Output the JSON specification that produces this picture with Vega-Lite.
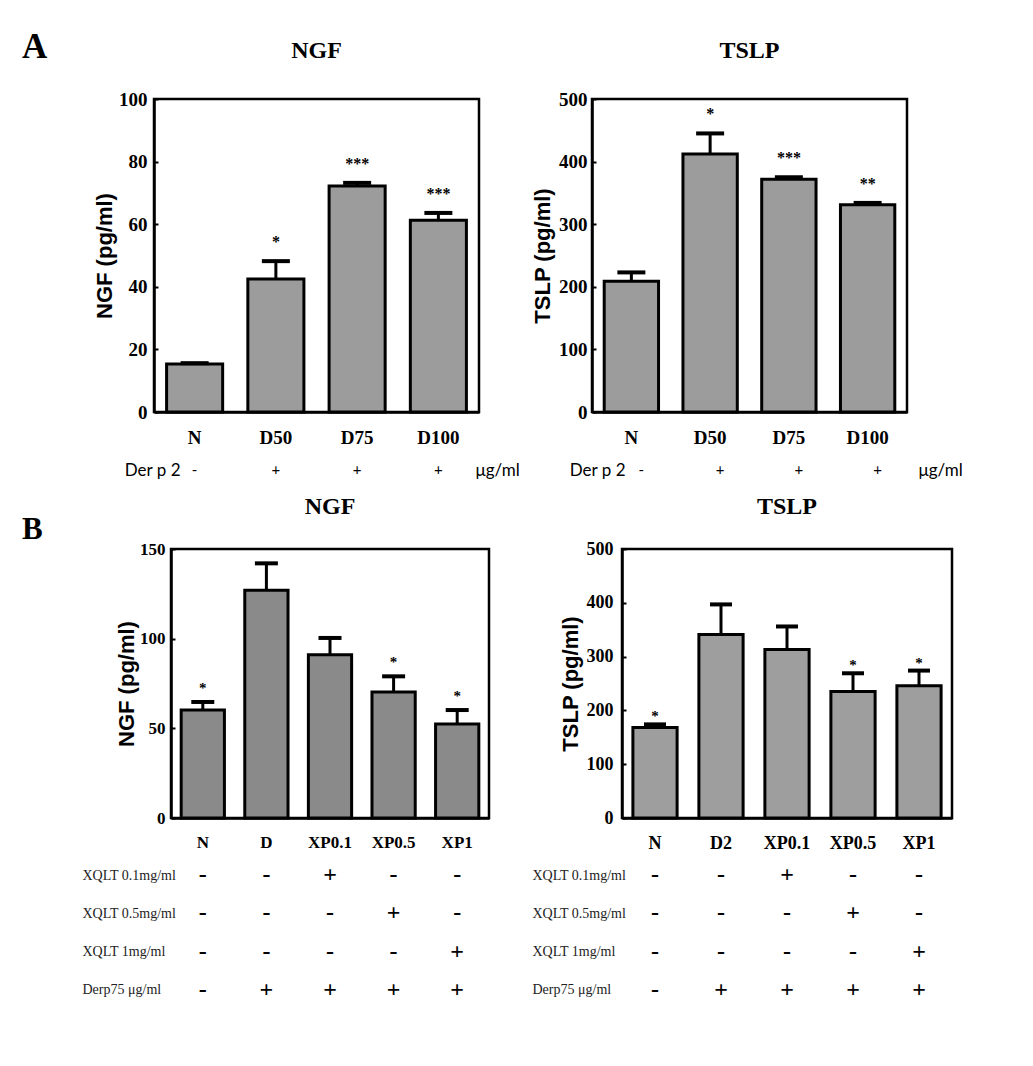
{
  "$schema": "https://vega.github.io/schema/vega-lite/v6.json",
  "background": "white",
  "padding": {"left": 22, "top": 29, "right": 10, "bottom": 5},
  "autosize": {"type": "pad"},
  "datasets": {
    "ngfA": [
      {"group": "N", "mean": 15.3, "upper": 15.6, "star": ""},
      {"group": "D50", "mean": 42.5, "upper": 48.2, "star": "*"},
      {"group": "D75", "mean": 72.2, "upper": 73.2, "star": "***"},
      {"group": "D100", "mean": 61.3, "upper": 63.6, "star": "***"}
    ],
    "tslpA": [
      {"group": "N", "mean": 209, "upper": 223, "star": ""},
      {"group": "D50", "mean": 412, "upper": 445, "star": "*"},
      {"group": "D75", "mean": 372, "upper": 375, "star": "***"},
      {"group": "D100", "mean": 331, "upper": 334, "star": "**"}
    ],
    "ngfB": [
      {"group": "N", "mean": 60.2, "upper": 64.7, "star": "*"},
      {"group": "D", "mean": 127, "upper": 142, "star": ""},
      {"group": "XP0.1", "mean": 91, "upper": 100.4, "star": ""},
      {"group": "XP0.5", "mean": 70.3, "upper": 79, "star": "*"},
      {"group": "XP1", "mean": 52.4, "upper": 60.2, "star": "*"}
    ],
    "tslpB": [
      {"group": "N", "mean": 168, "upper": 174, "star": "*"},
      {"group": "D2", "mean": 341, "upper": 397, "star": ""},
      {"group": "XP0.1", "mean": 313, "upper": 356, "star": ""},
      {"group": "XP0.5", "mean": 235, "upper": 269, "star": "*"},
      {"group": "XP1", "mean": 246, "upper": 274, "star": "*"}
    ],
    "derA": [
      {"group": "N", "row": "Der p 2", "sym": "-"},
      {"group": "D50", "row": "Der p 2", "sym": "+"},
      {"group": "D75", "row": "Der p 2", "sym": "+"},
      {"group": "D100", "row": "Der p 2", "sym": "+"}
    ],
    "tabNGF": [
      {"group": "N", "row": "XQLT 0.1mg/ml", "sym": "-"},
      {"group": "D", "row": "XQLT 0.1mg/ml", "sym": "-"},
      {"group": "XP0.1", "row": "XQLT 0.1mg/ml", "sym": "+"},
      {"group": "XP0.5", "row": "XQLT 0.1mg/ml", "sym": "-"},
      {"group": "XP1", "row": "XQLT 0.1mg/ml", "sym": "-"},
      {"group": "N", "row": "XQLT 0.5mg/ml", "sym": "-"},
      {"group": "D", "row": "XQLT 0.5mg/ml", "sym": "-"},
      {"group": "XP0.1", "row": "XQLT 0.5mg/ml", "sym": "-"},
      {"group": "XP0.5", "row": "XQLT 0.5mg/ml", "sym": "+"},
      {"group": "XP1", "row": "XQLT 0.5mg/ml", "sym": "-"},
      {"group": "N", "row": "XQLT 1mg/ml", "sym": "-"},
      {"group": "D", "row": "XQLT 1mg/ml", "sym": "-"},
      {"group": "XP0.1", "row": "XQLT 1mg/ml", "sym": "-"},
      {"group": "XP0.5", "row": "XQLT 1mg/ml", "sym": "-"},
      {"group": "XP1", "row": "XQLT 1mg/ml", "sym": "+"},
      {"group": "N", "row": "Derp75 μg/ml", "sym": "-"},
      {"group": "D", "row": "Derp75 μg/ml", "sym": "+"},
      {"group": "XP0.1", "row": "Derp75 μg/ml", "sym": "+"},
      {"group": "XP0.5", "row": "Derp75 μg/ml", "sym": "+"},
      {"group": "XP1", "row": "Derp75 μg/ml", "sym": "+"}
    ],
    "tabTSLP": [
      {"group": "N", "row": "XQLT 0.1mg/ml", "sym": "-"},
      {"group": "D2", "row": "XQLT 0.1mg/ml", "sym": "-"},
      {"group": "XP0.1", "row": "XQLT 0.1mg/ml", "sym": "+"},
      {"group": "XP0.5", "row": "XQLT 0.1mg/ml", "sym": "-"},
      {"group": "XP1", "row": "XQLT 0.1mg/ml", "sym": "-"},
      {"group": "N", "row": "XQLT 0.5mg/ml", "sym": "-"},
      {"group": "D2", "row": "XQLT 0.5mg/ml", "sym": "-"},
      {"group": "XP0.1", "row": "XQLT 0.5mg/ml", "sym": "-"},
      {"group": "XP0.5", "row": "XQLT 0.5mg/ml", "sym": "+"},
      {"group": "XP1", "row": "XQLT 0.5mg/ml", "sym": "-"},
      {"group": "N", "row": "XQLT 1mg/ml", "sym": "-"},
      {"group": "D2", "row": "XQLT 1mg/ml", "sym": "-"},
      {"group": "XP0.1", "row": "XQLT 1mg/ml", "sym": "-"},
      {"group": "XP0.5", "row": "XQLT 1mg/ml", "sym": "-"},
      {"group": "XP1", "row": "XQLT 1mg/ml", "sym": "+"},
      {"group": "N", "row": "Derp75 μg/ml", "sym": "-"},
      {"group": "D2", "row": "Derp75 μg/ml", "sym": "+"},
      {"group": "XP0.1", "row": "Derp75 μg/ml", "sym": "+"},
      {"group": "XP0.5", "row": "Derp75 μg/ml", "sym": "+"},
      {"group": "XP1", "row": "Derp75 μg/ml", "sym": "+"}
    ],
    "blank": [{"k": 1}]
  },
  "bounds": "flush",
  "spacing": 450,
  "vconcat": [
    {
      "title": {"text": "A", "anchor": "start", "frame": "group", "dx": -132, "dy": 31, "fontSize": 35},
      "bounds": "flush",
      "spacing": 438,
      "hconcat": [
        {
          "bounds": "flush",
          "spacing": 46,
          "vconcat": [
            {
              "width": 325, "height": 313,
              "title": {"text": "NGF", "offset": 27},
              "data": {"name": "ngfA"},
              "encoding": {
                "x": {"field": "group", "type": "nominal", "sort": null, "scale": {"paddingInner": 0.31, "paddingOuter": 0.155}, "axis": {"labelFontSize": 19}}
              },
              "layer": [
                {"mark": {"type": "bar", "fill": "#9c9c9c", "stroke": "black", "strokeWidth": 3},
                 "encoding": {"y": {"field": "mean", "type": "quantitative", "title": "NGF (pg/ml)", "scale": {"domain": [0, 100], "nice": false}, "axis": {"values": [0, 20, 40, 60, 80, 100], "labelPadding": 11, "titlePadding": 2}}}},
                {"mark": {"type": "rule", "color": "black", "strokeWidth": 3},
                 "encoding": {"y": {"field": "mean", "type": "quantitative", "title": "NGF (pg/ml)"}, "y2": {"field": "upper"}}},
                {"mark": {"type": "tick", "color": "black", "thickness": 4, "size": 28, "opacity": 1},
                 "encoding": {"y": {"field": "upper", "type": "quantitative", "title": "NGF (pg/ml)"}}},
                {"mark": {"type": "text", "font": "Liberation Serif", "fontWeight": "bold", "fontSize": 16, "color": "black", "baseline": "alphabetic", "dy": -14},
                 "encoding": {"y": {"field": "upper", "type": "quantitative", "title": "NGF (pg/ml)"}, "text": {"field": "star"}}}
              ]
            },
            {
              "width": 325, "height": 24,
              "view": {"stroke": null},
              "data": {"name": "derA"},
              "layer": [
                {"mark": {"type": "text", "font": "Lato", "fontSize": 15, "color": "black", "baseline": "middle"},
                 "encoding": {
                   "x": {"field": "group", "type": "nominal", "sort": null, "scale": {"paddingInner": 0.31, "paddingOuter": 0.155}, "axis": null},
                   "y": {"field": "row", "type": "nominal", "axis": {"title": null, "domain": false, "ticks": false, "tickSize": 0, "labelPadding": -26, "labelFont": "Lato", "labelFontSize": 17, "labelFontWeight": "normal"}},
                   "text": {"field": "sym"}}},
                {"mark": {"type": "text", "text": ""},
                 "encoding": {
                   "y": {"field": "row", "type": "nominal", "axis": {"orient": "right", "title": null, "domain": false, "ticks": false, "tickSize": 0, "labelPadding": -4, "labelExpr": "'μg/ml'", "labelFont": "Lato", "labelFontSize": 17, "labelFontWeight": "normal"}}}}
              ],
              "resolve": {"scale": {"y": "independent"}}
            }
          ]
        },
        {
          "bounds": "flush",
          "spacing": 46,
          "vconcat": [
            {
              "width": 315, "height": 313,
              "title": {"text": "TSLP", "offset": 27},
              "data": {"name": "tslpA"},
              "encoding": {
                "x": {"field": "group", "type": "nominal", "sort": null, "scale": {"paddingInner": 0.31, "paddingOuter": 0.155}, "axis": {"labelFontSize": 19}}
              },
              "layer": [
                {"mark": {"type": "bar", "fill": "#9c9c9c", "stroke": "black", "strokeWidth": 3},
                 "encoding": {"y": {"field": "mean", "type": "quantitative", "title": "TSLP (pg/ml)", "scale": {"domain": [0, 500], "nice": false}, "axis": {"values": [0, 100, 200, 300, 400, 500], "labelPadding": 9, "titlePadding": 4}}}},
                {"mark": {"type": "rule", "color": "black", "strokeWidth": 3},
                 "encoding": {"y": {"field": "mean", "type": "quantitative", "title": "TSLP (pg/ml)"}, "y2": {"field": "upper"}}},
                {"mark": {"type": "tick", "color": "black", "thickness": 4, "size": 28, "opacity": 1},
                 "encoding": {"y": {"field": "upper", "type": "quantitative", "title": "TSLP (pg/ml)"}}},
                {"mark": {"type": "text", "font": "Liberation Serif", "fontWeight": "bold", "fontSize": 16, "color": "black", "baseline": "alphabetic", "dy": -14},
                 "encoding": {"y": {"field": "upper", "type": "quantitative", "title": "TSLP (pg/ml)"}, "text": {"field": "star"}}}
              ]
            },
            {
              "width": 315, "height": 24,
              "view": {"stroke": null},
              "data": {"name": "derA"},
              "layer": [
                {"mark": {"type": "text", "font": "Lato", "fontSize": 15, "color": "black", "baseline": "middle", "dx": 10},
                 "encoding": {
                   "x": {"field": "group", "type": "nominal", "sort": null, "scale": {"paddingInner": 0.31, "paddingOuter": 0.155}, "axis": null},
                   "y": {"field": "row", "type": "nominal", "axis": {"title": null, "domain": false, "ticks": false, "tickSize": 0, "labelPadding": -33, "labelFont": "Lato", "labelFontSize": 17, "labelFontWeight": "normal"}},
                   "text": {"field": "sym"}}},
                {"mark": {"type": "text", "text": ""},
                 "encoding": {
                   "y": {"field": "row", "type": "nominal", "axis": {"orient": "right", "title": null, "domain": false, "ticks": false, "tickSize": 0, "labelPadding": 11, "labelExpr": "'μg/ml'", "labelFont": "Lato", "labelFontSize": 17, "labelFontWeight": "normal"}}}}
              ],
              "resolve": {"scale": {"y": "independent"}}
            }
          ]
        }
      ]
    },
    {
      "title": {"text": "B", "anchor": "start", "frame": "group", "dx": -132, "dy": 56, "fontSize": 31},
      "bounds": "flush",
      "spacing": 17,
      "hconcat": [
        {
          "bounds": "flush",
          "vconcat": [
            {
              "width": 1, "height": 1, "view": {"stroke": null},
              "data": {"name": "blank"}, "mark": {"type": "point", "opacity": 0}, "encoding": {}
            }
          ]
        },
        {
          "bounds": "flush",
          "spacing": 451,
          "hconcat": [
            {
              "bounds": "flush",
              "spacing": 38,
              "vconcat": [
                {
                  "width": 318, "height": 269,
                  "title": {"text": "NGF", "offset": 21},
                  "data": {"name": "ngfB"},
                  "encoding": {
                    "x": {"field": "group", "type": "nominal", "sort": null, "scale": {"paddingInner": 0.32, "paddingOuter": 0.16}, "axis": {"labelFontSize": 17}}
                  },
                  "layer": [
                    {"mark": {"type": "bar", "fill": "#8a8a8a", "stroke": "black", "strokeWidth": 3},
                     "encoding": {"y": {"field": "mean", "type": "quantitative", "title": "NGF (pg/ml)", "scale": {"domain": [0, 150], "nice": false}, "axis": {"values": [0, 50, 100, 150], "labelPadding": 10, "labelFontSize": 17, "titlePadding": 1}}}},
                    {"mark": {"type": "rule", "color": "black", "strokeWidth": 3},
                     "encoding": {"y": {"field": "mean", "type": "quantitative", "title": "NGF (pg/ml)"}, "y2": {"field": "upper"}}},
                    {"mark": {"type": "tick", "color": "black", "thickness": 4, "size": 23, "opacity": 1},
                     "encoding": {"y": {"field": "upper", "type": "quantitative", "title": "NGF (pg/ml)"}}},
                    {"mark": {"type": "text", "font": "Liberation Serif", "fontWeight": "bold", "fontSize": 15, "color": "black", "baseline": "alphabetic", "dy": -9},
                     "encoding": {"y": {"field": "upper", "type": "quantitative", "title": "NGF (pg/ml)"}, "text": {"field": "star"}}}
                  ]
                },
                {
                  "width": 318, "height": 153,
                  "view": {"stroke": null},
                  "data": {"name": "tabNGF"},
                  "mark": {"type": "text", "font": "Liberation Serif", "fontWeight": "bold", "fontSize": 24, "color": "black", "baseline": "middle"},
                  "encoding": {
                    "x": {"field": "group", "type": "nominal", "sort": null, "scale": {"paddingInner": 0.32, "paddingOuter": 0.16}, "axis": null},
                    "y": {"field": "row", "type": "nominal", "sort": null, "axis": {"title": null, "domain": false, "ticks": false, "tickSize": 0, "labelPadding": 89, "labelAlign": "left", "labelFont": "Liberation Serif", "labelFontSize": 14, "labelFontWeight": "normal", "labelColor": "#222222"}},
                    "text": {"field": "sym"}
                  }
                }
              ]
            },
            {
              "bounds": "flush",
              "spacing": 38,
              "vconcat": [
                {
                  "width": 330, "height": 269,
                  "title": {"text": "TSLP", "offset": 21},
                  "data": {"name": "tslpB"},
                  "encoding": {
                    "x": {"field": "group", "type": "nominal", "sort": null, "scale": {"paddingInner": 0.33, "paddingOuter": 0.165}, "axis": {"labelFontSize": 18}}
                  },
                  "layer": [
                    {"mark": {"type": "bar", "fill": "#9e9e9e", "stroke": "black", "strokeWidth": 3},
                     "encoding": {"y": {"field": "mean", "type": "quantitative", "title": "TSLP (pg/ml)", "scale": {"domain": [0, 500], "nice": false}, "axis": {"values": [0, 100, 200, 300, 400, 500], "labelPadding": 13, "labelFontSize": 18, "titlePadding": 4}}}},
                    {"mark": {"type": "rule", "color": "black", "strokeWidth": 3},
                     "encoding": {"y": {"field": "mean", "type": "quantitative", "title": "TSLP (pg/ml)"}, "y2": {"field": "upper"}}},
                    {"mark": {"type": "tick", "color": "black", "thickness": 4, "size": 22, "opacity": 1},
                     "encoding": {"y": {"field": "upper", "type": "quantitative", "title": "TSLP (pg/ml)"}}},
                    {"mark": {"type": "text", "font": "Liberation Serif", "fontWeight": "bold", "fontSize": 15, "color": "black", "baseline": "alphabetic", "dy": -3},
                     "encoding": {"y": {"field": "upper", "type": "quantitative", "title": "TSLP (pg/ml)"}, "text": {"field": "star"}}}
                  ]
                },
                {
                  "width": 330, "height": 153,
                  "view": {"stroke": null},
                  "data": {"name": "tabTSLP"},
                  "mark": {"type": "text", "font": "Liberation Serif", "fontWeight": "bold", "fontSize": 24, "color": "black", "baseline": "middle"},
                  "encoding": {
                    "x": {"field": "group", "type": "nominal", "sort": null, "scale": {"paddingInner": 0.33, "paddingOuter": 0.165}, "axis": null},
                    "y": {"field": "row", "type": "nominal", "sort": null, "axis": {"title": null, "domain": false, "ticks": false, "tickSize": 0, "labelPadding": 90, "labelAlign": "left", "labelFont": "Liberation Serif", "labelFontSize": 14, "labelFontWeight": "normal", "labelColor": "#222222"}},
                    "text": {"field": "sym"}
                  }
                }
              ]
            }
          ]
        }
      ]
    }
  ],
  "config": {
    "view": {"stroke": "black", "strokeWidth": 2.5},
    "axis": {
      "grid": false,
      "domainColor": "black", "domainWidth": 2.5,
      "tickColor": "black", "tickWidth": 2,
      "labelColor": "black", "titleColor": "black",
      "labelFont": "Liberation Serif", "labelFontWeight": "bold", "labelFontSize": 19,
      "titleFont": "Liberation Sans", "titleFontWeight": "bold", "titleFontSize": 22
    },
    "axisX": {"ticks": false, "tickSize": 0, "labelPadding": 16, "labelAngle": 0, "title": null, "labelBaseline": "top"},
    "axisY": {"tickSize": -4},
    "title": {"font": "Liberation Serif", "fontWeight": "bold", "fontSize": 24, "color": "black"}
  }
}
